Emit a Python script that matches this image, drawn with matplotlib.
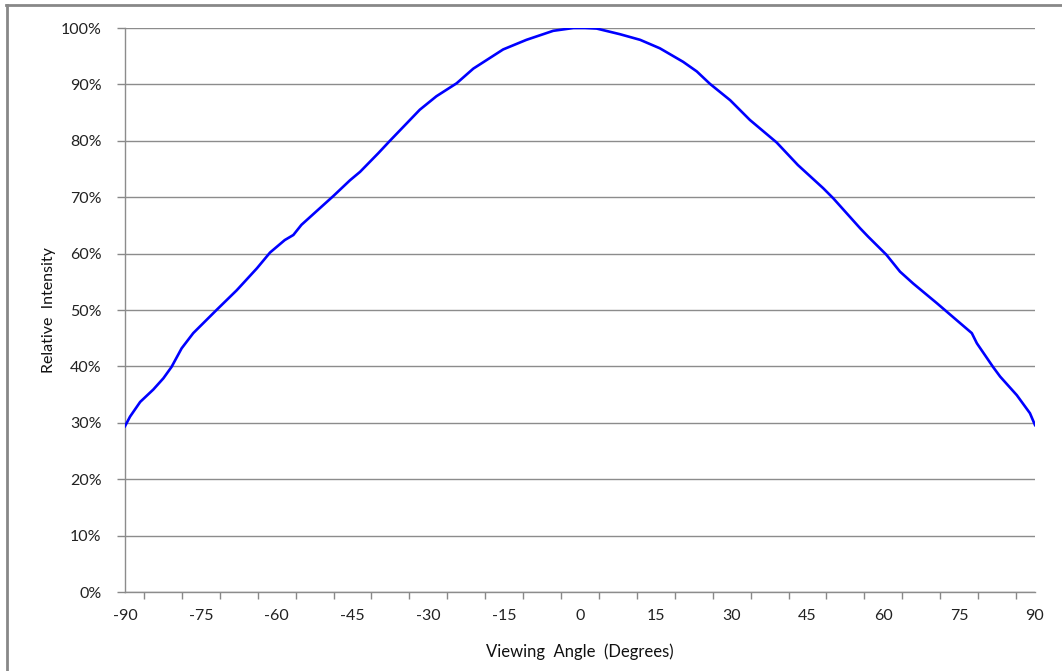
import matplotlib
matplotlib.use("Agg")
import matplotlib.pyplot as plt
from matplotlib.lines import Line2D
from matplotlib.ticker import FuncFormatter

plt.rcParams['font.family'] = ['Lato', 'DejaVu Sans']
plt.rcParams['axes.unicode_minus'] = False

# viewing angle (deg) and relative intensity (%)
angle = [-90, -89.0, -87.0, -84.4, -82.4, -80.8, -78.8, -76.5, -71.9, -67.9,
         -63.9, -61.3, -58.4, -56.7, -55.1, -48.8, -45.5, -43.5, -39.9, -37.6,
         -31.7, -28.4, -24.4, -21.1, -15.2, -10.6, -5.3, -1.3, 1.0, 3.3,
         7.9, 11.9, 15.8, 20.4, 23.1, 25.7, 29.7, 33.6, 38.9, 43.1,
         48.1, 50.1, 55.4, 57.0, 60.6, 63.3, 65.9, 70.6, 74.5, 77.5,
         78.5, 81.7, 83.1, 86.4, 89.0, 90]
intensity = [29.4, 31.1, 33.7, 35.9, 37.9, 39.9, 43.2, 45.9, 50.0, 53.5,
             57.4, 60.2, 62.4, 63.3, 65.1, 70.2, 73.0, 74.5, 77.8, 80.0,
             85.5, 87.9, 90.2, 92.8, 96.2, 97.9, 99.5, 100.0, 100.0, 99.9,
             98.9, 97.9, 96.4, 94.0, 92.3, 90.1, 87.2, 83.7, 79.7, 75.7,
             71.6, 69.8, 64.5, 63.0, 59.8, 56.8, 54.7, 51.2, 48.2, 45.9,
             44.1, 39.9, 38.2, 34.9, 31.7, 29.6]

xlabels = [-90, -75, -60, -45, -30, -15, 0, 15, 30, 45, 60, 75, 90]
xminor = [-86.25 + 7.5 * i for i in range(24)]
yticks = [0, 10, 20, 30, 40, 50, 60, 70, 80, 90, 100]

fig = plt.figure(figsize=(10.62, 6.71), dpi=100)
ax = fig.add_axes([125/1062, 79/671, 910/1062, 564/671])

ax.plot(angle, intensity, color='#0000ff', lw=1.9, zorder=3)

ax.set_xlim(-90, 90)
ax.set_ylim(0, 100)
ax.set_yticks(yticks)
ax.yaxis.set_major_formatter(FuncFormatter(lambda v, p: '%d%%' % v))
ax.set_xticks(xlabels)
ax.set_xticks(xminor, minor=True)
ax.tick_params(axis='x', which='major', length=0, pad=12, labelsize=11.5, colors='#222222')
ax.tick_params(axis='x', which='minor', length=5, width=1, color='#888888', direction='out')
ax.tick_params(axis='y', length=6, width=1, color='#888888', pad=11, labelsize=11.5, labelcolor='#222222')

ax.grid(axis='y', color='#8c8c8c', lw=1)
ax.set_axisbelow(True)
for s in ['top', 'right']:
    ax.spines[s].set_visible(False)
for s in ['left', 'bottom']:
    ax.spines[s].set_color('#8c8c8c')
    ax.spines[s].set_linewidth(1)

ax.set_xlabel('Viewing  Angle  (Degrees)', fontsize=12, labelpad=15, color='#111111')
ax.set_ylabel('Relative  Intensity', fontsize=11.5, labelpad=3, color='#111111')

# outer chart frame
fig.add_artist(Line2D([7/1062, 7/1062], [0, 666/671], color='#888888', lw=2))
fig.add_artist(Line2D([6/1062, 1], [666/671, 666/671], color='#888888', lw=2))

fig.savefig('out.png', dpi=100, facecolor='white')
